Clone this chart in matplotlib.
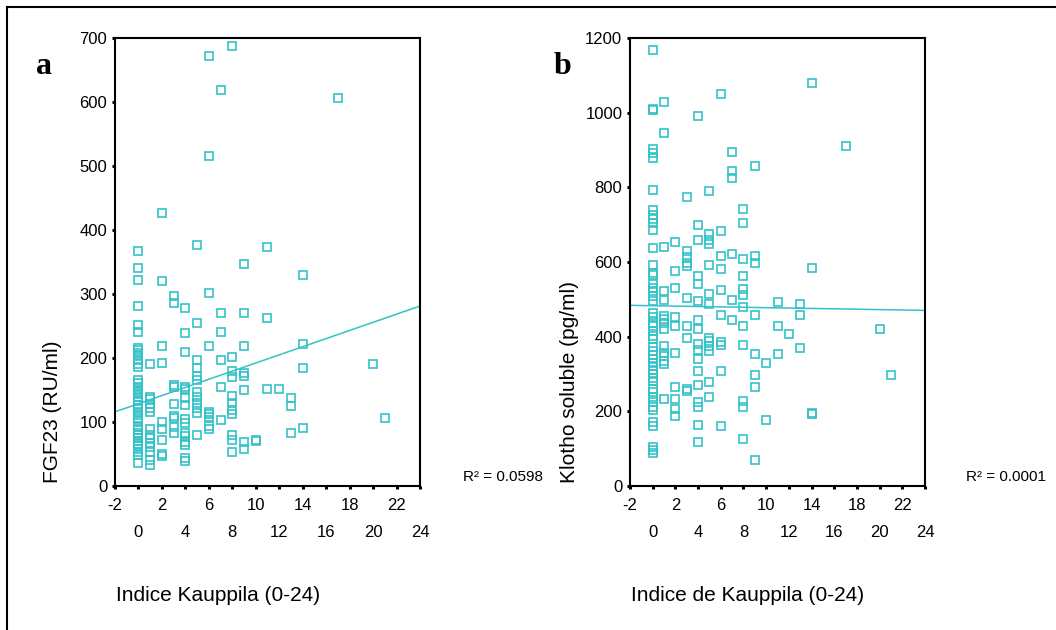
import matplotlib
matplotlib.use("Agg")
import matplotlib.pyplot as plt
from matplotlib.lines import Line2D
import numpy as np

plt.rcParams["font.family"] = ["Liberation Sans", "DejaVu Sans"]

# panel a: FGF23 (RU/ml) by Kauppila index
fgf23_by_score = {
    0: [367, 340, 322, 281, 252, 241, 216, 212, 208, 204, 196, 191, 186,
        165, 160, 155, 150, 147, 143, 138, 132, 127, 121, 116, 111, 106, 101,
        92, 87, 83, 79, 75, 70, 66, 62, 57, 52, 48, 35],
    1: [190, 139, 135, 128, 122, 115, 88, 80, 74, 67, 61, 53, 41, 32],
    2: [426, 320, 219, 192, 99, 88, 72, 50, 47],
    3: [297, 285, 157, 154, 128, 109, 106, 92, 82],
    4: [278, 239, 209, 155, 151, 137, 127, 104, 98, 82, 77, 69, 64, 43, 39],
    5: [377, 254, 196, 184, 171, 166, 147, 139, 129, 121, 113, 79],
    6: [672, 515, 302, 219, 116, 112, 108, 94, 89],
    7: [618, 270, 241, 197, 154, 103],
    8: [687, 201, 180, 170, 141, 129, 118, 112, 79, 71, 52],
    9: [347, 270, 219, 177, 171, 150, 69, 58],
    10: [71, 70],
    11: [374, 263, 152],
    12: [152],
    13: [137, 125, 83],
    14: [330, 222, 184, 91],
    17: [606],
    20: [190],
    21: [106],
}
fit_a = (128.3, 6.36)  # intercept, slope
r2_a = "R² = 0.0598"

# panel b: soluble Klotho (pg/ml) by Kauppila index
klotho_by_score = {
    0: [1168, 1010, 1006, 903, 892, 879, 793, 738, 727, 716, 703, 685, 636,
        593, 570, 566, 540, 531, 522, 508, 495, 464, 451, 437, 428, 415, 402,
        393, 371, 360, 350, 340, 330, 320, 310, 300, 290, 282, 260, 251, 237,
        224, 211, 202, 171, 159, 104, 95, 89],
    1: [1029, 945, 640, 522, 497, 455, 446, 437, 420, 375, 357, 348, 335, 326, 233],
    2: [652, 575, 529, 451, 428, 357, 264, 233, 206, 186],
    3: [773, 628, 613, 597, 588, 504, 428, 396, 260, 255],
    4: [992, 700, 660, 562, 541, 495, 444, 420, 380, 364, 340, 307, 269, 224,
        212, 164, 117],
    5: [789, 676, 660, 647, 593, 513, 488, 396, 387, 375, 362, 277, 239],
    6: [1051, 684, 616, 580, 524, 458, 384, 378, 307, 160],
    7: [894, 843, 826, 620, 497, 445],
    8: [742, 704, 609, 562, 526, 511, 479, 428, 378, 228, 212, 126],
    9: [856, 615, 596, 458, 353, 298, 264, 68],
    10: [328, 177],
    11: [492, 428, 353],
    12: [408],
    13: [488, 458, 369],
    14: [1080, 584, 196, 193],
    17: [911],
    20: [420],
    21: [298],
}
fit_b = (482.5, -0.52)
r2_b = "R² = 0.0001"

xticks_row1 = [-2, 2, 6, 10, 14, 18, 22]
xticks_row2 = [0, 4, 8, 12, 16, 20, 24]

TEAL = "#33c2c8"


def draw_panel(ax, data, fit, ylim, ystep, ylabel, xlabel, letter, r2):
    xs, ys = [], []
    for score, vals in data.items():
        xs += [score] * len(vals)
        ys += vals
    ax.plot(xs, ys, "s", ms=5.5, mfc="none", mec=TEAL, mew=1.2, ls="none")

    line_x = np.array([-2, 24])
    ax.plot(line_x, fit[0] + fit[1] * line_x, color=TEAL, lw=1.1)

    ax.set_xlim(-2, 24)
    ax.set_ylim(0, ylim)
    ax.set_yticks(np.arange(0, ylim + 1, ystep))
    ax.set_xticks(xticks_row1, labels=[str(v) for v in xticks_row1])
    ax.set_xticks(xticks_row2, labels=[str(v) for v in xticks_row2], minor=True)
    ax.tick_params(axis="both", which="both", direction="out", length=2.5,
                   width=2.2, labelsize=12)
    ax.tick_params(axis="y", pad=3)
    ax.tick_params(axis="x", which="major", pad=6)
    ax.tick_params(axis="x", which="minor", pad=26)
    for s in ax.spines.values():
        s.set_linewidth(1.5)

    # axis titles are anchored at the lower left, SPSS style
    ax.text(-0.205, 0.007, ylabel, transform=ax.transAxes, rotation=90,
            ha="center", va="bottom", fontsize=15)
    ax.text(0.003, -0.246, xlabel, transform=ax.transAxes,
            ha="left", va="center", fontsize=15)
    ax.text(1.14, 0.02, r2, transform=ax.transAxes, ha="left", va="center",
            fontsize=11)
    ax.text(-0.26, 0.92, letter, transform=ax.transAxes, ha="left",
            va="baseline", fontsize=23, fontweight="bold",
            family=["Liberation Serif", "DejaVu Serif"])


fig = plt.figure(figsize=(10.56, 6.3), dpi=100)
ax_a = fig.add_axes([0.1089, 0.229, 0.2888, 0.7106])
ax_b = fig.add_axes([0.5966, 0.229, 0.2794, 0.7106])

draw_panel(ax_a, fgf23_by_score, fit_a, 700, 100, "FGF23 (RU/ml)",
           "Indice Kauppila (0-24)", "a", r2_a)
draw_panel(ax_b, klotho_by_score, fit_b, 1200, 200, "Klotho soluble (pg/ml)",
           "Indice de Kauppila (0-24)", "b", r2_b)

# outer frame (top and left edges show in the original)
fig.add_artist(Line2D([7 / 1056, 7 / 1056], [0, 1 - 7 / 630],
                      transform=fig.transFigure, color="black", lw=1.5))
fig.add_artist(Line2D([7 / 1056, 1], [1 - 7 / 630, 1 - 7 / 630],
                      transform=fig.transFigure, color="black", lw=1.5))

fig.savefig("out.png", dpi=100)
